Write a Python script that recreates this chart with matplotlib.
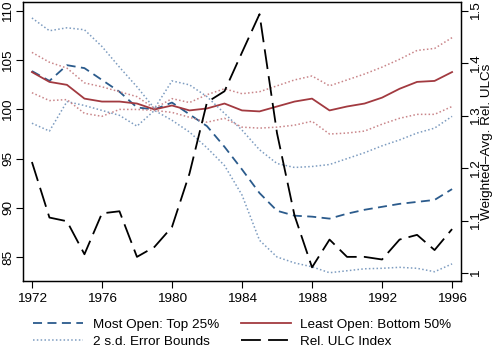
import numpy as np
import matplotlib
matplotlib.use('Agg')
from matplotlib import pyplot as plt

plt.rcParams['font.family'] = ['Liberation Sans', 'DejaVu Sans']

years = np.arange(1972, 1997)

# Most Open: Top 25%
most_open = [103.9, 102.9, 104.5, 104.2, 103.0, 101.8, 100.2, 100.0, 100.7, 99.5,
             98.3, 96.2, 93.9, 91.5, 89.7, 89.2, 89.1, 88.9, 89.4, 89.8,
             90.1, 90.4, 90.6, 90.8, 91.9]
most_hi = [109.3, 108.0, 108.3, 108.1, 106.4, 104.3, 102.3, 100.1, 102.9, 102.5,
           101.3, 99.6, 97.9, 95.9, 94.5, 94.1, 94.2, 94.4, 95.0, 95.6,
           96.3, 96.9, 97.6, 98.1, 99.3]
most_lo = [98.6, 97.8, 100.8, 100.4, 99.9, 99.4, 98.3, 99.9, 98.9, 97.7,
           96.1, 94.3, 91.3, 86.7, 85.0, 84.4, 84.0, 83.4, 83.6, 83.8,
           83.85, 83.95, 83.85, 83.5, 84.3]

# Least Open: Bottom 50%
least_open = [103.8, 102.8, 102.5, 101.1, 100.8, 100.8, 100.6, 100.0, 100.4, 99.9,
              100.1, 100.6, 99.9, 99.8, 100.3, 100.8, 101.1, 99.9, 100.3, 100.6,
              101.2, 102.1, 102.8, 102.9, 103.8]
least_hi = [105.8, 104.8, 104.2, 102.7, 102.3, 101.8, 101.3, 100.1, 101.1, 100.7,
            101.5, 102.1, 101.6, 101.8, 102.4, 103.0, 103.4, 102.4, 103.0, 103.6,
            104.3, 105.1, 106.0, 106.2, 107.3]
least_lo = [101.7, 100.9, 101.0, 99.6, 99.3, 100.0, 100.0, 99.9, 99.7, 99.2,
            98.7, 99.1, 98.2, 98.1, 98.2, 98.4, 98.8, 97.5, 97.6, 97.8,
            98.5, 99.1, 99.5, 99.5, 100.3]

# Rel. ULC index (right axis)
ulc = [1.212, 1.106, 1.099, 1.036, 1.114, 1.118, 1.031, 1.050, 1.088, 1.190,
       1.326, 1.347, 1.421, 1.494, 1.267, 1.110, 1.011, 1.064, 1.031, 1.031,
       1.026, 1.064, 1.073, 1.044, 1.084]

blue = '#2b5b8c'
red = '#a23a40'
blue_l = '#7d9cc0'
red_l = '#c98589'

fig = plt.figure(figsize=(5, 3.53), dpi=100)
ax = fig.add_axes([0.046, 0.204, 0.876, 0.790])

l1, = ax.plot(years, most_open, color=blue, lw=1.3, dashes=(5, 3), label='Most Open: Top 25%')
l3, = ax.plot(years, least_open, color=red, lw=1.3, label='Least Open: Bottom 50%')
l2, = ax.plot(years, most_hi, color=blue_l, lw=1.1, ls=(0, (1, 1.5)), label='2 s.d. Error Bounds')
ax.plot(years, most_lo, color=blue_l, lw=1.1, ls=(0, (1, 1.5)))
ax.plot(years, least_hi, color=red_l, lw=1.1, ls=(0, (1, 1.5)))
ax.plot(years, least_lo, color=red_l, lw=1.1, ls=(0, (1, 1.5)))

ax.set_xlim(1971.49, 1996.51)
ax.set_ylim(82.56, 110.91)
ax.set_xticks(np.arange(1972, 1997, 4))
ax.set_yticks([85, 90, 95, 100, 105, 110])
ax.tick_params(axis='both', labelsize=9.7, length=5, width=0.8, direction='out')
ax.tick_params(axis='y', pad=1.5)
for t in ax.get_yticklabels():
    t.set_rotation(90)
    t.set_va('center')

ax2 = ax.twinx()
l4, = ax2.plot(years, ulc, color='black', lw=1.3, dashes=(11, 4), label='Rel. ULC Index')
ax2.set_ylim(0.985, 1.517)
ax2.set_yticks([1.0, 1.1, 1.2, 1.3, 1.4, 1.5])
ax2.set_yticklabels(['1', '1.1', '1.2', '1.3', '1.4', '1.5'])
ax2.tick_params(axis='y', labelsize=9.7, length=5, width=0.8, direction='out', pad=1.5)
for t in ax2.get_yticklabels():
    t.set_rotation(90)
    t.set_va('center')
ax2.set_ylabel('Weighted\u2013Avg. Rel. ULCs', fontsize=9.7)
ax2.yaxis.set_label_coords(1.046, 0.5)

for a in (ax, ax2):
    for s in a.spines.values():
        s.set_linewidth(0.9)

fig.legend([l1, l2, l3, l4],
           ['Most Open: Top 25%', '2 s.d. Error Bounds', 'Least Open: Bottom 50%', 'Rel. ULC Index'],
           ncol=2, frameon=False, fontsize=9.7, loc='lower left',
           bbox_to_anchor=(0.056, 0.0), borderaxespad=0, handlelength=3.7,
           columnspacing=1.65, labelspacing=0.3, handletextpad=0.7)

fig.savefig('out.png', dpi=100)
